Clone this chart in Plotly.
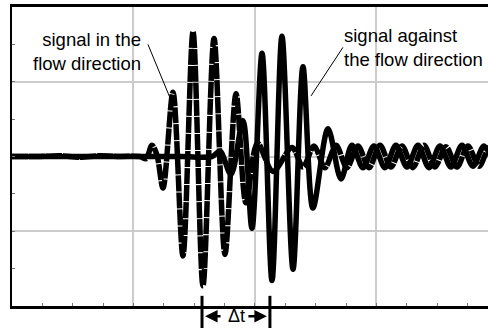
import plotly.graph_objects as go

# signal in the flow direction (time in grid units x10, amplitude in grid units)
sig1_t = [0, 2.3, 3.95, 5.6, 7.24, 8.89, 10.53, 11.03, 11.52, 11.93, 12.43, 13.25, 14.07, 14.90,
          15.72, 16.63, 17.53, 18.44, 19.26, 20.2, 21.48, 23.05, 23.95, 24.86, 25.76, 26.67, 27.57,
          28.48, 29.38, 30.29, 31.19, 32.10, 33.00, 33.91, 34.81, 35.72, 36.63, 37.53, 38.44, 39.34, 40.25]
sig1_v = [0, 0.0, 0.01, -0.01, 0.01, 0.0, 0.0, -0.03, 0.15, 0.02, -0.42, 0.86, -1.33, 1.67,
          -1.73, 1.58, -1.31, 0.84, -0.62, 0.18, -0.20, 0.12, -0.14, 0.14, -0.15, 0.15, -0.15,
          0.14, -0.15, 0.15, -0.14, 0.14, -0.15, 0.15, -0.14, 0.13, -0.14, 0.14, -0.13, 0.13, -0.13]

# signal against the flow direction
sig2_t = [0, 5, 10, 14, 16.46, 17.12, 18.02, 19.01, 19.75, 20.58, 21.40, 22.22, 23.13, 23.95, 24.77,
          26.01, 27.08, 27.98, 28.89, 29.79, 30.70, 31.60, 32.51, 33.42, 34.32, 35.23, 36.13, 37.04,
          37.94, 38.85, 39.75]
sig2_v = [0, 0, 0, 0, 0, 0.07, -0.24, 0.48, -0.96, 1.38, -1.66, 1.61, -1.51, 1.20, -0.69,
          0.37, -0.30, 0.15, -0.15, 0.14, -0.15, 0.15, -0.14, 0.15, -0.15, 0.14, -0.14, 0.15,
          -0.13, 0.14, -0.14]

dt_start = 15.64
dt_end = 21.23

label1 = "signal in the<br>flow direction"
label2 = "signal against<br>the flow direction"
dt_label = "Δt"

FONT = "Arial, Liberation Sans, sans-serif"

fig = go.Figure()
fig.add_trace(go.Scatter(x=sig2_t, y=sig2_v, mode="lines",
                         line=dict(color="black", width=5.5, shape="spline", smoothing=0.9),
                         hoverinfo="skip"))
fig.add_trace(go.Scatter(x=sig1_t, y=sig1_v, mode="lines",
                         line=dict(color="black", width=5.5, dash="16px,1px",
                                   shape="spline", smoothing=0.9),
                         hoverinfo="skip"))

fig.update_layout(
    width=488, height=328,
    margin=dict(l=12, r=0, t=7, b=22),
    paper_bgcolor="white", plot_bgcolor="white",
    showlegend=False,
    font=dict(family=FONT, color="black"),
    xaxis=dict(range=[0, 39.18], dtick=10, tick0=0, showgrid=True, gridcolor="#cccccc", gridwidth=2,
               zeroline=False, showline=True, linecolor="black", linewidth=2.5, mirror=True,
               showticklabels=False, ticks="inside", ticklen=3, tickcolor="#777",
               minor=dict(dtick=2.5, ticks="inside", ticklen=3, tickcolor="#777", showgrid=False)),
    yaxis=dict(range=[-2, 2], dtick=1, tick0=0, showgrid=True, gridcolor="#cccccc", gridwidth=2,
               zeroline=False, showline=True, linecolor="black", linewidth=2,
               showticklabels=False, ticks="inside", ticklen=3, tickcolor="#777",
               minor=dict(dtick=0.5, ticks="inside", ticklen=3, tickcolor="#777", showgrid=False)),
)

# leader lines
fig.add_shape(type="line", xref="x", yref="y", x0=11.19, y0=1.50, x1=13.17, y1=0.72,
              line=dict(color="black", width=1))
fig.add_shape(type="line", xref="x", yref="y", x0=27.24, y0=1.46, x1=24.61, y1=0.81,
              line=dict(color="black", width=1))

fig.add_annotation(x=10.78, y=1.40, xref="x", yref="y", text=label1, showarrow=False,
                   xanchor="right", yanchor="middle", align="right",
                   font=dict(size=18.5, family=FONT, color="black"))
fig.add_annotation(x=27.2, y=1.46, xref="x", yref="y", text=label2, showarrow=False,
                   xanchor="left", yanchor="middle", align="left",
                   font=dict(size=18.5, family=FONT, color="black"))

# delta t markers
for xv in (dt_start, dt_end):
    fig.add_shape(type="line", xref="x", yref="paper", x0=xv, x1=xv, y0=0.034, y1=-0.08,
                  line=dict(color="black", width=3))

fig.add_annotation(x=(dt_start + dt_end) / 2 + 0.05, y=-0.034, xref="x", yref="paper", text=dt_label,
                   showarrow=False, xanchor="center", yanchor="middle",
                   font=dict(size=18, family=FONT, color="black"))
fig.add_annotation(x=dt_start + 0.25, y=-0.034, xref="x", yref="paper", text="",
                   showarrow=True, arrowhead=2, arrowsize=1, arrowwidth=2.5, arrowcolor="black",
                   ax=17, ay=0)
fig.add_annotation(x=dt_end - 0.25, y=-0.034, xref="x", yref="paper", text="",
                   showarrow=True, arrowhead=2, arrowsize=1, arrowwidth=2.5, arrowcolor="black",
                   ax=-20, ay=0)

fig.write_html("out.html", config={"displayModeBar": False},
               post_script="document.body.style.margin='0';document.body.style.overflow='hidden';")
